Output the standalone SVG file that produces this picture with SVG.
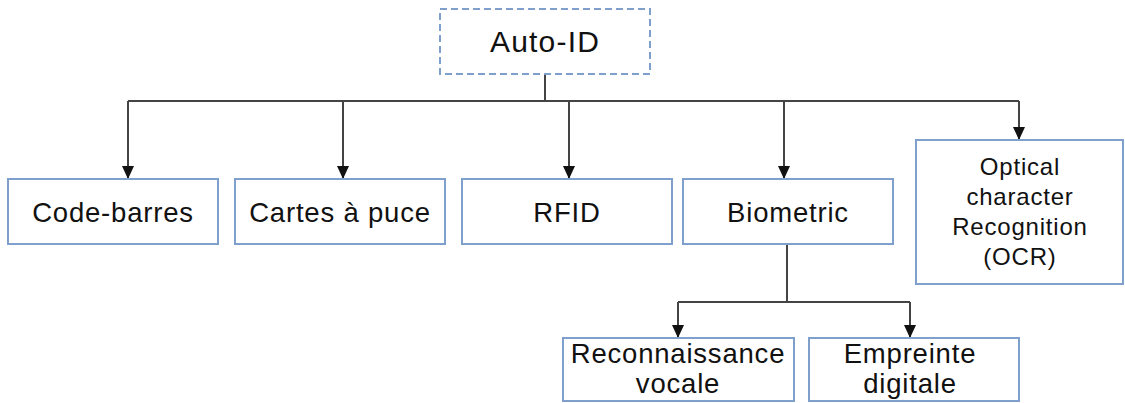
<svg xmlns="http://www.w3.org/2000/svg" width="1125" height="403" viewBox="0 0 1125 403">
  <style>
    .box { fill: #ffffff; stroke: #7f9fcc; stroke-width: 2; }
    .root { fill: #ffffff; stroke: #7f9fcc; stroke-width: 2; stroke-dasharray: 7 4; }
    .lbl { font-family: "Liberation Sans", Arial, sans-serif; fill: #111111; text-anchor: middle; }
    .big { font-size: 30px; letter-spacing: 1.2px; }
    .mid { font-size: 27.5px; letter-spacing: 0.8px; }
    .small { font-size: 24px; letter-spacing: 0.8px; }
    .wire { fill: none; stroke: #444444; stroke-width: 2; }
  </style>
  <defs>
    <marker id="tip" markerUnits="userSpaceOnUse" markerWidth="14" markerHeight="12" refX="13" refY="6" orient="auto" viewBox="0 0 14 12">
      <path d="M0,0 L13,6 L0,12 Z" fill="#111111"/>
    </marker>
  </defs>

  <g id="connectors">
    <path class="wire" d="M545,74 V101"/>
    <path class="wire" d="M128,101 H1019"/>
    <path class="wire" d="M128,101 V179" marker-end="url(#tip)"/>
    <path class="wire" d="M343,101 V179" marker-end="url(#tip)"/>
    <path class="wire" d="M569,101 V179" marker-end="url(#tip)"/>
    <path class="wire" d="M784,101 V179" marker-end="url(#tip)"/>
    <path class="wire" d="M1019,101 V140" marker-end="url(#tip)"/>
    <path class="wire" d="M787,244 V302"/>
    <path class="wire" d="M678,302 H910"/>
    <path class="wire" d="M678,302 V338" marker-end="url(#tip)"/>
    <path class="wire" d="M910,302 V338" marker-end="url(#tip)"/>
  </g>

  <g id="auto-id">
    <rect class="root" x="440" y="9" width="210" height="65"/>
    <text class="lbl big" x="545" y="52">Auto-ID</text>
  </g>

  <g id="code-barres">
    <rect class="box" x="8" y="179" width="210" height="65"/>
    <text class="lbl mid" x="113" y="222">Code-barres</text>
  </g>

  <g id="cartes-a-puce">
    <rect class="box" x="235" y="179" width="210" height="65"/>
    <text class="lbl mid" x="340" y="222">Cartes à puce</text>
  </g>

  <g id="rfid">
    <rect class="box" x="462" y="179" width="210" height="65"/>
    <text class="lbl mid" x="567" y="222">RFID</text>
  </g>

  <g id="biometric">
    <rect class="box" x="683" y="179" width="210" height="65"/>
    <text class="lbl mid" x="788" y="222">Biometric</text>
  </g>

  <g id="ocr">
    <rect class="box" x="916" y="140" width="207" height="144"/>
    <text class="lbl small" x="1020" y="174.5">Optical</text>
    <text class="lbl small" x="1020" y="205">character</text>
    <text class="lbl small" x="1020" y="235">Recognition</text>
    <text class="lbl small" x="1020" y="264.5">(OCR)</text>
  </g>

  <g id="reconnaissance-vocale">
    <rect class="box" x="563" y="338" width="231" height="63"/>
    <text class="lbl mid" x="678" y="363">Reconnaissance</text>
    <text class="lbl mid" x="678" y="393">vocale</text>
  </g>

  <g id="empreinte-digitale">
    <rect class="box" x="809" y="338" width="210" height="63"/>
    <text class="lbl mid" x="910" y="363">Empreinte</text>
    <text class="lbl mid" x="910" y="393">digitale</text>
  </g>
</svg>
